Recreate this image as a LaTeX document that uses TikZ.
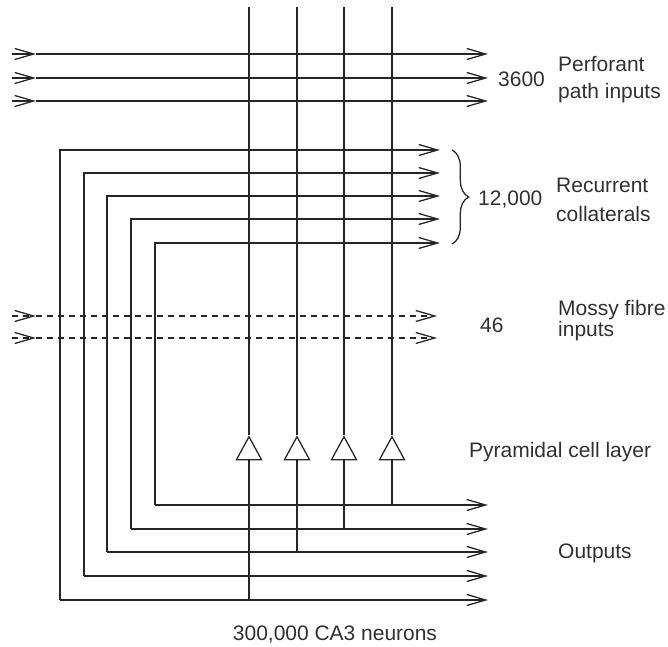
\documentclass[tikz,border=0pt]{standalone}
\usepackage{fontspec}
\setmainfont{Liberation Sans}
\usepackage{xcolor}
\usepackage{tikz}
\usetikzlibrary{arrows.meta,shapes.geometric,decorations.pathreplacing}
\definecolor{mInk}{HTML}{262626}
\definecolor{mText}{HTML}{303030}
\tikzset{
  axon/.style={draw=mInk, line width=1.1pt},
  fibre/.style={axon, -{Straight Barb[length=5.7mm,width=3.3mm]}},
  mossy/.style={fibre, dash pattern=on 1.8mm off 1.5mm},
  soma/.style={draw=mInk, fill=white, line width=1.1pt, isosceles triangle, isosceles triangle stretches, shape border rotate=90, minimum width=0.75cm, minimum height=0.69cm, inner sep=0pt},
  lbl/.style={font=\fontsize{17.9}{23}\selectfont, text=mText, inner sep=0pt, align=left}
}
\newcommand{\inpath}[4]{%
 \coordinate (#1s) at (12,#2);
 \coordinate (#1m) at (36,#2);
 \coordinate (#1e) at (#3,#2);
 \draw[#4] (#1s) -- (#1m);
 \draw[#4] (#1m) -- (#1e);}
\newcommand{\collat}[4]{%
 \coordinate (#1c) at (#2,#4);
 \coordinate (#1r) at (440,#3);
 \coordinate (#1o) at (488,#4);
 \draw[fibre] (#1c) |- (#1r);
 \draw[fibre] (#1c) -- (#1o);}
\newcommand{\pcell}[3]{%
 \coordinate (#1t) at (#2,7);
 \node[soma, anchor=apex] (#1) at (#2,435) {};
 \coordinate (#1b) at (#2,#3);
 \draw[axon] (#1t) -- (#1.apex);
 \draw[axon] (#1.lower side) -- (#1b);}

\begin{document}
\begin{tikzpicture}[x=0.03cm,y=-0.03cm]
\useasboundingbox (0,0) rectangle (668,647);
\inpath{pp1}{54}{488}{fibre}
\inpath{pp2}{78}{488}{fibre}
\inpath{pp3}{101}{488}{fibre}
\collat{rc1}{60}{150}{600}
\collat{rc2}{84}{173}{576}
\collat{rc3}{107}{196}{552}
\collat{rc4}{131}{219}{529}
\collat{rc5}{155}{243}{505}
\inpath{mf1}{316}{437}{mossy}
\inpath{mf2}{338}{437}{mossy}
\pcell{ca1}{249}{600}
\pcell{ca2}{297}{552}
\pcell{ca3}{344}{529}
\pcell{ca4}{392}{505}
\draw[axon, decorate, decoration={brace, amplitude=5mm}] (rc1r) ++(12,0) coordinate (brTop) -- (452,244) coordinate (brBot);
\node[lbl, anchor=base west] (n3600) at (498,86) {3600};
\node[lbl, anchor=west] (perf) at (558,80) {Perforant\\path inputs};
\node[lbl, anchor=base west] (n12000) at (478,205) {12,000};
\node[lbl, anchor=west, font=\fontsize{17.9}{24.8}\selectfont] (recur) at (556,200) {Recurrent\\collaterals};
\node[lbl, anchor=base west] (n46) at (480,332) {46};
\node[lbl, anchor=west, font=\fontsize{17.9}{18}\selectfont] (mossyLbl) at (558,321) {Mossy fibre\\inputs};
\node[lbl, anchor=base west] (pyr) at (469,457) {Pyramidal cell layer};
\node[lbl, anchor=base west] (outs) at (558,558) {Outputs};
\node[lbl, anchor=base] (neurons) at (335,640) {300,000 CA3 neurons};
\end{tikzpicture}
\end{document}
